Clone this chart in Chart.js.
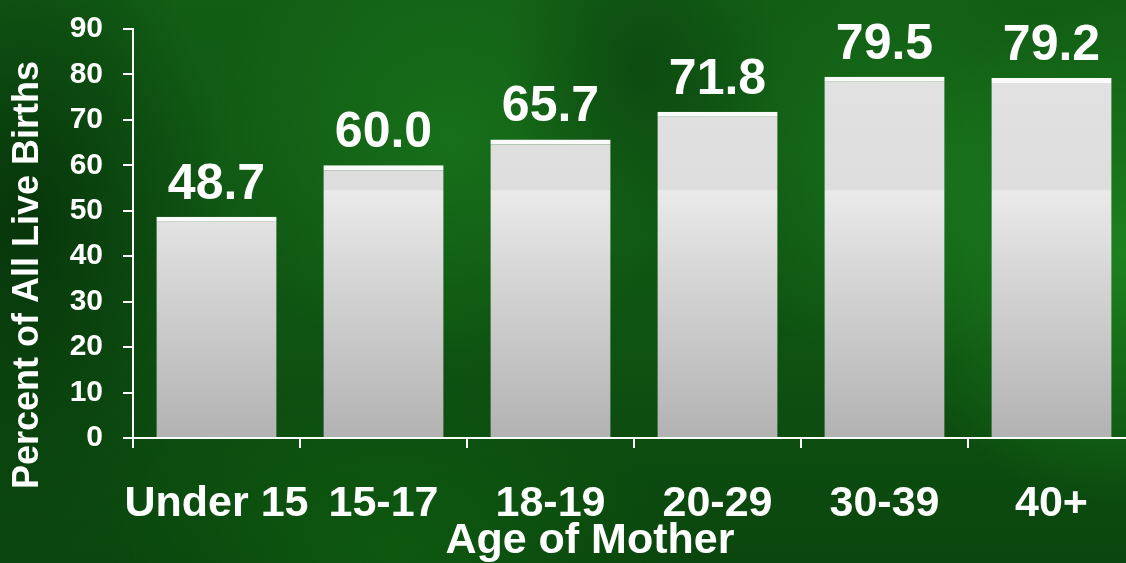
<!DOCTYPE html>
<html>
<head>
<meta charset="utf-8">
<script src="https://cdn.jsdelivr.net/npm/chart.js@4"></script>
<style>
  html, body { margin: 0; padding: 0; width: 1126px; height: 563px; overflow: hidden; }
  body {
    background:
      radial-gradient(ellipse 12% 30% at 57% 12%, rgba(12,70,16,0.8), rgba(12,70,16,0) 100%),
      radial-gradient(ellipse 22% 45% at 100% 45%, rgba(32,140,34,0.8), rgba(32,140,34,0) 100%),
      radial-gradient(ellipse 22% 40% at 40% 25%, rgba(26,120,28,0.7), rgba(26,120,28,0) 100%),
      radial-gradient(ellipse 18% 35% at 80% 30%, rgba(28,125,30,0.6), rgba(28,125,30,0) 100%),
      radial-gradient(ellipse 25% 30% at 35% 98%, rgba(16,100,18,0.6), rgba(16,100,18,0) 100%),
      radial-gradient(ellipse 18% 60% at 2% 40%, rgba(6,50,10,0.9), rgba(6,50,10,0) 100%),
      linear-gradient(180deg, #125e15 0%, #0f5412 55%, #0a460d 100%);
  }
  .wrap { position: absolute; left: 0; top: 0; width: 1136px; height: 563px; }
</style>
</head>
<body>
<div class="wrap"><canvas id="barChart" width="1136" height="563"></canvas></div>
<script>
const ageGroups = ['Under 15', '15-17', '18-19', '20-29', '30-39', '40+'];
const births = [48.7, 60.0, 65.7, 71.8, 79.5, 79.2];
const yMax = 90;
const yStep = 10;
const yTitle = 'Percent of All Live Births';
const xTitle = 'Age of Mother';

const FONT = '"Liberation Sans", Arial, sans-serif';

// gradient across the whole plot area so the glass break lines up on every bar
function barFill(context) {
  const chart = context.chart;
  const area = chart.chartArea;
  if (!area) return '#d8d8d8';
  const g = chart.ctx.createLinearGradient(0, area.top, 0, area.bottom);
  g.addColorStop(0, '#e4e4e4');
  g.addColorStop(0.392, '#dddddd');
  g.addColorStop(0.396, '#eaeaea');
  g.addColorStop(0.6, '#d6d6d6');
  g.addColorStop(1, '#b2b2b2');
  return g;
}

const decor = {
  id: 'decor',
  afterDatasetsDraw(chart) {
    const ctx = chart.ctx;
    // value labels
    const meta = chart.getDatasetMeta(0);
    ctx.save();
    ctx.fillStyle = '#ffffff';
    ctx.font = 'bold 50px ' + FONT;
    ctx.textAlign = 'center';
    ctx.textBaseline = 'alphabetic';
    meta.data.forEach((bar, i) => {
      ctx.fillText(births[i].toFixed(1), bar.x, bar.y - 18);
    });
    ctx.restore();
  },
  afterDraw(chart) {
    const ctx = chart.ctx;
    const area = chart.chartArea;
    ctx.save();
    ctx.fillStyle = '#ffffff';
    ctx.textAlign = 'center';
    // x title
    ctx.font = 'bold 43px ' + FONT;
    ctx.textBaseline = 'alphabetic';
    ctx.fillText(xTitle, area.left + (area.right - area.left) * 0.456, 553);
    // y title
    ctx.font = 'bold 36px ' + FONT;
    ctx.textBaseline = 'middle';
    ctx.translate(28, 275);
    ctx.rotate(-Math.PI / 2);
    ctx.fillText(yTitle, 0, 0);
    ctx.restore();
  }
};

const ctx = document.getElementById('barChart').getContext('2d');
new Chart(ctx, {
  type: 'bar',
  data: {
    labels: ageGroups,
    datasets: [{
      data: births,
      backgroundColor: barFill,
      borderColor: '#fbfbfb',
      borderWidth: { top: 5, left: 0, right: 0, bottom: 0 },
      borderSkipped: 'start',
      barPercentage: 0.72,
      categoryPercentage: 1.0
    }]
  },
  options: {
    responsive: false,
    animation: false,
    layout: {
      padding: { top: 29, right: 1, bottom: 0, left: 0 }
    },
    plugins: {
      legend: { display: false },
      tooltip: { enabled: false }
    },
    scales: {
      x: {
        grid: {
          display: true,
          drawOnChartArea: false,
          drawTicks: true,
          tickLength: 10,
          color: '#ffffff',
          lineWidth: 2,
          offset: true
        },
        border: { display: true, color: '#ffffff', width: 2 },
        ticks: {
          color: '#ffffff',
          font: { family: FONT, size: 43, weight: 'bold' },
          padding: 30,
          maxRotation: 0,
          autoSkip: false
        },
        afterFit(scale) { scale.height = 125; }
      },
      y: {
        min: 0,
        max: yMax,
        grid: {
          display: true,
          drawOnChartArea: false,
          drawTicks: true,
          tickLength: 10,
          color: '#ffffff',
          lineWidth: 2
        },
        border: { display: true, color: '#ffffff', width: 2 },
        ticks: {
          stepSize: yStep,
          color: '#ffffff',
          // small lineHeight keeps the label overflow from pushing the plot down
          font: { family: FONT, size: 30, weight: 'bold', lineHeight: 0.3 },
          padding: 20
        },
        afterFit(scale) { scale.width = 133; }
      }
    }
  },
  plugins: [decor]
});
</script>
</body>
</html>
